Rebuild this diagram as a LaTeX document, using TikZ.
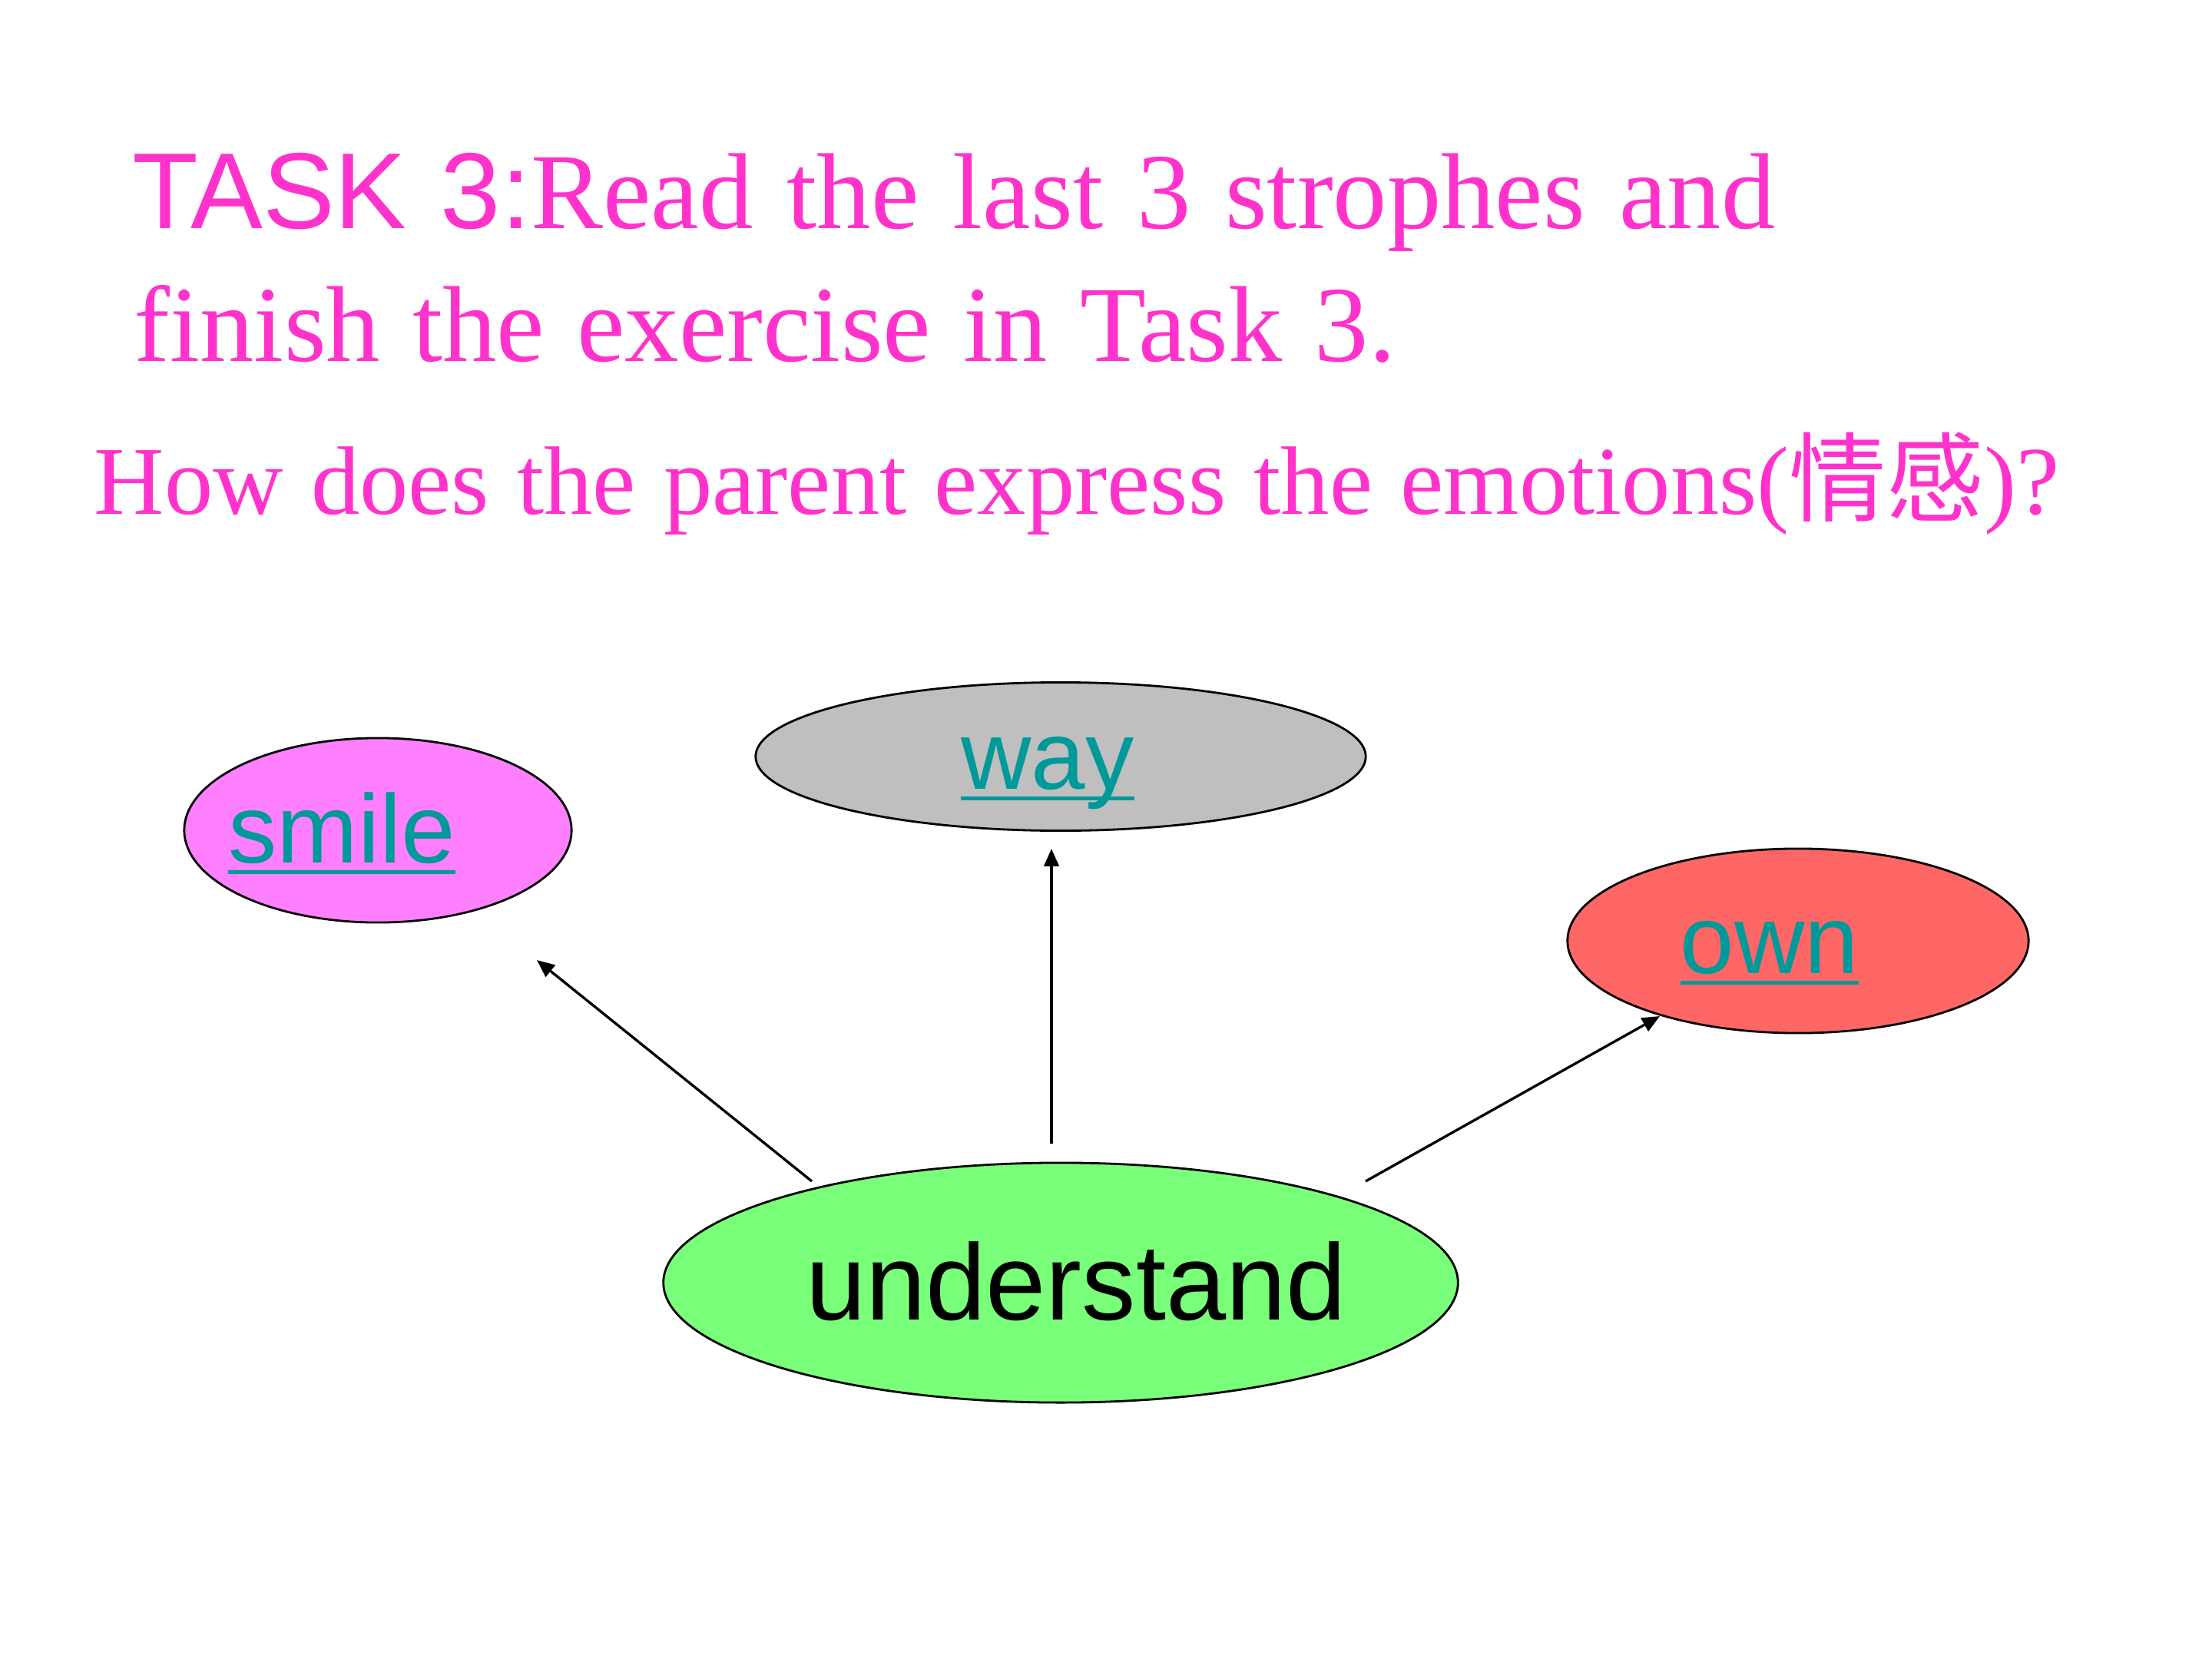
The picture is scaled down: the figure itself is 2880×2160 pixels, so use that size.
\documentclass[tikz,border=0pt]{standalone}
\usepackage{fontspec}
\setmainfont{Liberation Serif}
\newfontfamily\arialf{Liberation Sans}
\newfontfamily\cjkf{Noto Sans CJK SC}
\usetikzlibrary{shapes.geometric,arrows.meta}
\definecolor{pinktxt}{HTML}{FF33CC}
\definecolor{linkteal}{HTML}{009999}
\definecolor{smilefill}{HTML}{FF80FF}
\definecolor{wayfill}{HTML}{BFBFBF}
\definecolor{ownfill}{HTML}{FF6666}
\definecolor{underfill}{HTML}{79FF79}
\newcommand{\myul}[1]{\setbox0=\hbox{#1}\rlap{\color{linkteal}\rule[-0.12em]{\wd0}{0.04em}}\box0}
\tikzset{
  bubble/.style={ellipse, draw=black, line width=0.8pt, inner sep=0pt},
  titletxt/.style={anchor=base west, inner sep=0pt, text=pinktxt},
  linklbl/.style={anchor=base, inner sep=0pt, text=linkteal, font=\arialf\fontsize{36}{43}\selectfont},
  arr/.style={line width=0.95pt, -{Triangle[length=6.5pt,width=5.5pt]}}
}
\begin{document}
\begin{tikzpicture}[x=0.01cm,y=-0.01cm]
\useasboundingbox[fill=white] (0,0) rectangle (2880,2160);

% title
\node[titletxt, font=\fontsize{40}{48}\selectfont] (t1) at (172,297)
  {\spaceskip=12.6pt\relax{\arialf TASK 3:}Read the last 3 strophes and};
\node[titletxt, font=\fontsize{40}{48}\selectfont] (t2) at (174,470)
  {\spaceskip=12pt\relax finish the exercise in Task 3.};
\node[titletxt, font=\fontsize{36}{43}\selectfont] (t3) at (122,669)
  {\spaceskip=10.3pt\relax How does the parent express the emotions({\cjkf 情感})?};

% ellipses
\node[bubble, fill=smilefill, minimum width=5.04cm, minimum height=2.40cm] (smile) at (492,1081) {};
\node[bubble, fill=wayfill, minimum width=7.94cm, minimum height=1.93cm] (way) at (1381,985) {};
\node[bubble, fill=ownfill, minimum width=6.00cm, minimum height=2.40cm] (own) at (2341,1225) {};
\node[bubble, fill=underfill, minimum width=10.34cm, minimum height=3.12cm] (under) at (1381,1670) {};

% labels
\node[linklbl] (smilet) at (445,1123) {\myul{smile}};
\node[linklbl] (wayt) at (1364,1027) {\myul{way}};
\node[linklbl] (ownt) at (2304,1267) {\myul{own}};
\node[anchor=base, inner sep=0pt, font=\arialf\fontsize{40}{48}\selectfont] (undert) at (1401,1718) {understand};

% arrow end points
\coordinate (a1s) at (1057,1538);
\coordinate (a1e) at (699,1250);
\coordinate (a2s) at (1369,1489);
\coordinate (a2e) at (1369,1105);
\coordinate (a3s) at (1778,1538);
\coordinate (a3e) at (2161,1323);

\draw[arr] (a1s) -- (a1e);
\draw[arr] (a2s) -- (a2e);
\draw[arr] (a3s) -- (a3e);
\end{tikzpicture}
\end{document}
